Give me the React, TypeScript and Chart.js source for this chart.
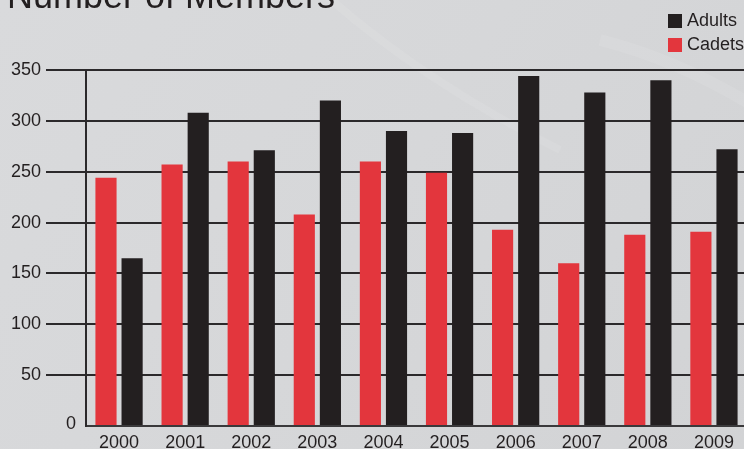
import React, { useEffect, useRef } from "react";
import { Chart, registerables } from "chart.js";

Chart.register(...registerables);

const TITLE = "Number of Members";
const years = ["2000", "2001", "2002", "2003", "2004", "2005", "2006", "2007", "2008", "2009"];
const cadets = [244, 257, 260, 208, 260, 249, 193, 160, 188, 191];
const adults = [165, 308, 271, 320, 290, 288, 344, 328, 340, 272];
const yTicks = [0, 50, 100, 150, 200, 250, 300, 350];

const RED = "#e3363d";
const BLACK = "#231f20";
const INK = "#2b292b";
const FONT = "'Liberation Sans', Arial, Helvetica, sans-serif";

export default function App() {
  const ref = useRef<HTMLCanvasElement | null>(null);

  useEffect(() => {
    if (!ref.current) return;

    const bgPlugin = {
      id: "bg",
      beforeDraw(chart: any) {
        const { ctx, width, height } = chart;
        ctx.save();
        const g = ctx.createLinearGradient(0, 0, width, height);
        g.addColorStop(0, "#d9dadc");
        g.addColorStop(0.5, "#d6d7d9");
        g.addColorStop(1, "#d2d3d5");
        ctx.fillStyle = g;
        ctx.fillRect(0, 0, width, height);
        // faint decorative swirls
        ctx.strokeStyle = "rgba(255,255,255,0.08)";
        ctx.lineWidth = 8;
        ctx.beginPath();
        ctx.moveTo(320, -10);
        ctx.quadraticCurveTo(420, 80, 560, 150);
        ctx.stroke();
        ctx.lineWidth = 12;
        ctx.beginPath();
        ctx.moveTo(600, 40);
        ctx.quadraticCurveTo(680, 60, 760, 110);
        ctx.stroke();
        ctx.restore();
      },
    };

    const titleLegendPlugin = {
      id: "titleLegend",
      afterDraw(chart: any) {
        const { ctx } = chart;
        ctx.save();
        ctx.fillStyle = BLACK;
        ctx.font = `36px ${FONT}`;
        ctx.textAlign = "left";
        ctx.textBaseline = "alphabetic";
        ctx.fillText(TITLE, 7, 8);
        // zero label, sitting close to the axis
        const yScale = chart.scales.y;
        ctx.font = `18px ${FONT}`;
        ctx.textAlign = "right";
        ctx.textBaseline = "middle";
        ctx.fillText(String(yTicks[0]), 76, yScale.getPixelForValue(yTicks[0]) - 2);
        // legend: Adults then Cadets
        const items = [chart.data.datasets[1], chart.data.datasets[0]];
        ctx.textAlign = "left";
        items.forEach((ds: any, i: number) => {
          const y = 14 + i * 24;
          ctx.fillStyle = ds.backgroundColor;
          ctx.fillRect(668, y, 14, 14);
          ctx.fillStyle = BLACK;
          ctx.fillText(ds.label, 687, y + 7.5);
        });
        ctx.restore();
      },
    };

    const chart = new Chart(ref.current, {
      type: "bar",
      data: {
        labels: years,
        datasets: [
          {
            label: "Cadets",
            data: cadets,
            backgroundColor: RED,
            categoryPercentage: 0.79,
            barPercentage: 0.81,
          },
          {
            label: "Adults",
            data: adults,
            backgroundColor: BLACK,
            categoryPercentage: 0.79,
            barPercentage: 0.81,
          },
        ],
      },
      options: {
        animation: false,
        responsive: true,
        maintainAspectRatio: false,
        layout: { padding: { top: 70, left: 0, right: 0, bottom: 0 } },
        plugins: {
          legend: { display: false },
          title: { display: false },
          tooltip: { enabled: false },
        },
        scales: {
          x: {
            grid: { display: false },
            border: { display: true, color: "#3a393b", width: 2 },
            ticks: {
              color: BLACK,
              font: { family: FONT, size: 18 },
              padding: -2,
              maxRotation: 0,
            },
            afterFit(scale: any) {
              scale.height = 23;
            },
          },
          y: {
            min: 0,
            max: 350,
            afterBuildTicks(scale: any) {
              scale.ticks = yTicks.map((v) => ({ value: v }));
            },
            grid: {
              color: (c: any) => (c.tick && c.tick.value === 0 ? "rgba(0,0,0,0)" : INK),
              lineWidth: 2,
              tickLength: 40,
              drawOnChartArea: true,
            },
            border: { display: true, color: INK, width: 2 },
            ticks: {
              color: BLACK,
              font: { family: FONT, size: 18 },
              padding: 5,
              callback: (v: any) => (Number(v) === 0 ? "" : String(v)),
            },
            afterFit(scale: any) {
              scale.width = 86;
            },
          },
        },
      },
      plugins: [bgPlugin, titleLegendPlugin],
    });

    return () => chart.destroy();
  }, []);

  return (
    <div style={{ position: "fixed", left: 0, top: 0, width: 744, height: 449, overflow: "hidden" }}>
      <div style={{ position: "relative", width: 747, height: 449 }}>
        <canvas ref={ref} />
      </div>
    </div>
  );
}
